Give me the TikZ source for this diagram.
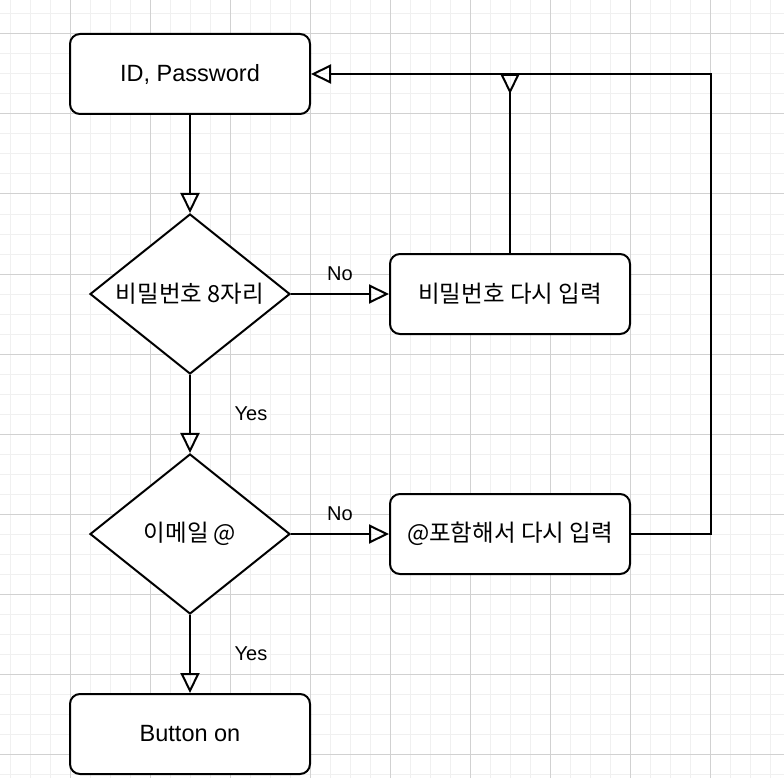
\documentclass[tikz,border=0pt]{standalone}
\usepackage{fontspec}
\setmainfont{Liberation Sans}
\newfontfamily\krfont{Noto Sans CJK KR}
\usetikzlibrary{shapes.geometric,arrows.meta}

\begin{document}
\begin{tikzpicture}[x=1pt, y=-1pt,
    minorline/.style ={draw=black!6, line width=1pt},
    majorline/.style ={draw=black!18, line width=1pt},
    process/.style ={rectangle, draw, line width=2pt, rounded corners=10pt, fill=white,
                     minimum width=240pt, minimum height=80pt, font=\fontsize{23.5}{27}\selectfont},
    decision/.style ={diamond, draw, line width=2pt, fill=white, aspect=1.25, inner sep=0pt,
                      minimum width=200pt, minimum height=160pt, font=\fontsize{23.5}{27}\selectfont},
    flow/.style ={line width=2pt, -{Triangle[open, length=20pt, width=19pt]}},
    branch/.style ={font=\fontsize{20}{24}\selectfont}]
   \useasboundingbox (0,0) rectangle (784,778);
   \fill[white] (0,0) rectangle (784,778);
   \foreach \x in {10,30,...,770} \draw[minorline] (\x,0) -- (\x,778);
   \foreach \y in {14,34,...,774} \draw[minorline] (0,\y) -- (784,\y);
   \foreach \x in {70,150,...,710} \draw[majorline] (\x,0) -- (\x,778);
   \foreach \y in {34,114,...,754} \draw[majorline] (0,\y) -- (784,\y);

   \node[process]  (A) at (190,74)  {ID, Password};
   \node[decision] (B) at (190,294) {\krfont 비밀번호 8자리};
   \node[process]  (C) at (510,294) {\krfont 비밀번호 다시 입력};
   \node[decision] (D) at (190,534) {\krfont 이메일 @};
   \node[process]  (E) at (510,534) {\krfont @포함해서 다시 입력};
   \node[process]  (F) at (190,734) {Button on};
   \coordinate (M) at (510,74);

   \draw[flow] (A) to (B);
   \draw[flow] (B) to node[branch, yshift=20pt] {No} (C);
   \draw[flow] (B) to node[branch, xshift=61pt] {Yes} (D);
   \draw[flow] (D) to node[branch, yshift=20pt] {No} (E);
   \draw[flow] (D) to node[branch, xshift=61pt] {Yes} (F);

   \draw[flow] (E.east) -- ++(80,0) |- (A.east);
   \draw[line width=2pt, -{Triangle[open, reversed, length=20pt, width=19pt]}] (C) to (M);
 \end{tikzpicture}
\end{document}
